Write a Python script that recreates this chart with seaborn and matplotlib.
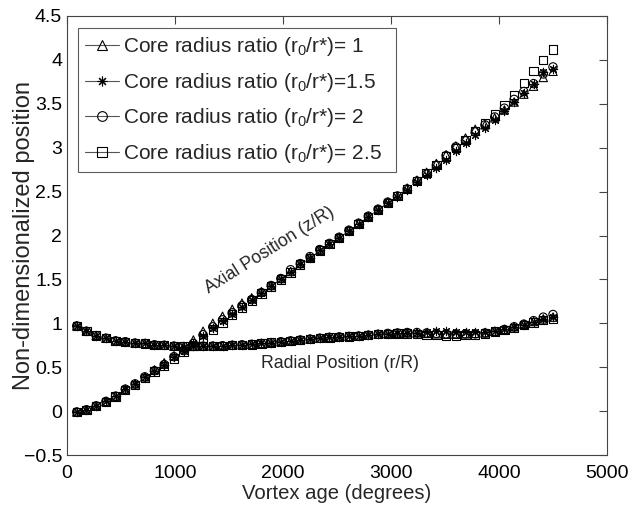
import matplotlib
matplotlib.use("Agg")
import matplotlib.pyplot as plt
import seaborn as sns
import pandas as pd
from matplotlib.lines import Line2D

# ---- data -----------------------------------------------------------------
vortex_age = [90, 180, 270, 360, 450, 540, 630, 720, 810, 900,
              990, 1080, 1170, 1260, 1350, 1440, 1530, 1620, 1710, 1800,
              1890, 1980, 2070, 2160, 2250, 2340, 2430, 2520, 2610, 2700,
              2790, 2880, 2970, 3060, 3150, 3240, 3330, 3420, 3510, 3600,
              3690, 3780, 3870, 3960, 4050, 4140, 4230, 4320, 4410, 4500]

ratio_labels = ["1", "1.5", "2", "2.5"]

axial_r1 = [-0.01, 0.015, 0.06, 0.11, 0.17, 0.25, 0.31, 0.39, 0.47, 0.55,
            0.63, 0.71, 0.81, 0.91, 1.00, 1.08, 1.16, 1.23, 1.29, 1.36,
            1.43, 1.51, 1.59, 1.68, 1.75, 1.83, 1.90, 1.98, 2.06, 2.14,
            2.22, 2.30, 2.38, 2.45, 2.54, 2.63, 2.72, 2.82, 2.92, 3.02,
            3.11, 3.21, 3.26, 3.34, 3.43, 3.52, 3.61, 3.70, 3.80, 3.87]
axial_r15 = [-0.01, 0.015, 0.06, 0.11, 0.17, 0.25, 0.31, 0.39, 0.46, 0.53,
             0.62, 0.69, 0.77, 0.86, 0.95, 1.03, 1.11, 1.19, 1.26, 1.34,
             1.42, 1.50, 1.58, 1.67, 1.74, 1.83, 1.90, 1.97, 2.05, 2.13,
             2.21, 2.29, 2.37, 2.44, 2.52, 2.61, 2.69, 2.77, 2.86, 2.96,
             3.05, 3.14, 3.23, 3.32, 3.42, 3.52, 3.62, 3.72, 3.86, 3.90]
axial_r2 = [-0.01, 0.015, 0.06, 0.11, 0.17, 0.25, 0.31, 0.39, 0.46, 0.53,
            0.62, 0.69, 0.77, 0.87, 0.96, 1.04, 1.12, 1.20, 1.27, 1.35,
            1.43, 1.51, 1.61, 1.68, 1.76, 1.84, 1.91, 1.98, 2.06, 2.14,
            2.22, 2.30, 2.38, 2.45, 2.53, 2.62, 2.70, 2.80, 2.91, 3.01,
            3.08, 3.18, 3.26, 3.35, 3.45, 3.55, 3.64, 3.73, 3.84, 3.92]
axial_r25 = [-0.01, 0.01, 0.055, 0.105, 0.165, 0.24, 0.30, 0.38, 0.45, 0.51,
             0.60, 0.67, 0.74, 0.83, 0.93, 1.01, 1.10, 1.18, 1.26, 1.34,
             1.42, 1.50, 1.58, 1.67, 1.74, 1.83, 1.90, 1.97, 2.05, 2.13,
             2.21, 2.29, 2.37, 2.45, 2.53, 2.62, 2.71, 2.80, 2.90, 3.00,
             3.09, 3.19, 3.28, 3.38, 3.49, 3.60, 3.74, 3.87, 4.00, 4.12]

radial_r1 = [0.97, 0.91, 0.86, 0.83, 0.80, 0.79, 0.775, 0.77, 0.755, 0.75,
             0.74, 0.735, 0.74, 0.74, 0.74, 0.745, 0.75, 0.755, 0.76, 0.77,
             0.78, 0.79, 0.80, 0.81, 0.82, 0.83, 0.84, 0.845, 0.85, 0.855,
             0.865, 0.875, 0.88, 0.885, 0.89, 0.89, 0.885, 0.88, 0.875, 0.875,
             0.88, 0.885, 0.89, 0.91, 0.93, 0.96, 0.99, 1.02, 1.05, 1.07]
radial_r15 = [0.97, 0.91, 0.86, 0.83, 0.80, 0.79, 0.775, 0.77, 0.755, 0.75,
              0.74, 0.735, 0.74, 0.74, 0.74, 0.745, 0.75, 0.755, 0.76, 0.77,
              0.78, 0.79, 0.80, 0.81, 0.82, 0.83, 0.84, 0.845, 0.85, 0.855,
              0.865, 0.875, 0.88, 0.885, 0.89, 0.895, 0.905, 0.91, 0.91, 0.905,
              0.905, 0.90, 0.90, 0.91, 0.93, 0.955, 0.985, 1.02, 1.05, 1.07]
radial_r2 = [0.97, 0.91, 0.86, 0.83, 0.80, 0.79, 0.775, 0.77, 0.755, 0.75,
             0.74, 0.735, 0.74, 0.74, 0.74, 0.745, 0.75, 0.755, 0.76, 0.77,
             0.78, 0.79, 0.80, 0.81, 0.82, 0.83, 0.84, 0.845, 0.85, 0.855,
             0.865, 0.875, 0.885, 0.89, 0.895, 0.895, 0.89, 0.885, 0.88, 0.88,
             0.88, 0.88, 0.89, 0.905, 0.93, 0.96, 0.99, 1.03, 1.07, 1.10]
radial_r25 = [0.97, 0.91, 0.86, 0.83, 0.80, 0.79, 0.775, 0.77, 0.755, 0.75,
              0.74, 0.735, 0.74, 0.74, 0.74, 0.745, 0.75, 0.755, 0.76, 0.77,
              0.78, 0.79, 0.80, 0.81, 0.82, 0.83, 0.84, 0.845, 0.85, 0.855,
              0.865, 0.875, 0.88, 0.885, 0.885, 0.88, 0.87, 0.865, 0.86, 0.86,
              0.865, 0.87, 0.885, 0.905, 0.925, 0.95, 0.98, 1.01, 1.04, 1.05]

axial_series = [axial_r1, axial_r15, axial_r2, axial_r25]
radial_series = [radial_r1, radial_r15, radial_r2, radial_r25]

# ---- style ----------------------------------------------------------------
sns.set_style("white")
plt.rcParams["font.family"] = ["Liberation Sans", "DejaVu Sans"]
plt.rcParams["mathtext.fontset"] = "custom"
plt.rcParams["mathtext.rm"] = "Liberation Sans"
plt.rcParams["mathtext.it"] = "Liberation Sans:italic"

markers = ["^", (8, 2, 0), "o", "s"]
label_texts = [r"Core radius ratio (r$\mathregular{_0}$/r*)= 1  ",
               r"Core radius ratio (r$\mathregular{_0}$/r*)=1.5  ",
               r"Core radius ratio (r$\mathregular{_0}$/r*)= 2  ",
               r"Core radius ratio (r$\mathregular{_0}$/r*)= 2.5  "]

fig = plt.figure(figsize=(6.28, 5.07), dpi=100)
ax = fig.add_axes([67 / 628, 1 - 455 / 507, 540 / 628, 439 / 507])

msize = 36
for m, ax_vals, rad_vals in zip(markers, axial_series, radial_series):
    df = pd.DataFrame({"age": vortex_age * 2,
                       "pos": ax_vals + rad_vals})
    if m == (8, 2, 0):
        sns.scatterplot(data=df, x="age", y="pos", marker=m, s=msize,
                        color="black", linewidth=0.8, ax=ax, legend=False)
    else:
        sns.scatterplot(data=df, x="age", y="pos", marker=m, s=msize,
                        facecolor="none", edgecolor="black", linewidth=0.8,
                        ax=ax, legend=False)

ax.set_xlim(0, 5000)
ax.set_ylim(-0.5, 4.5)
ax.set_xticks([0, 1000, 2000, 3000, 4000, 5000])
ax.set_yticks([-0.5, 0, 0.5, 1, 1.5, 2, 2.5, 3, 3.5, 4, 4.5])
ax.set_yticklabels(["\u22120.5", "0", "0.5", "1", "1.5", "2", "2.5", "3", "3.5", "4", "4.5"])
ax.tick_params(direction="in", top=True, right=True, length=6, width=0.8,
               color="#444444", labelcolor="black", labelsize=14)
ax.tick_params(axis="x", pad=7.5)
ax.tick_params(axis="y", pad=3.5)
for sp in ax.spines.values():
    sp.set_color("#444444")
    sp.set_linewidth(0.8)

ax.set_xlabel("Vortex age (degrees)", fontsize=14.6, labelpad=1)
ax.set_ylabel("Non-dimensionalized position", fontsize=17)
ax.yaxis.set_label_coords(-0.0593, 0.5)

ax.text(1880, 1.83, "Axial Position (z/R)", rotation=32, rotation_mode="anchor",
        ha="center", va="center", fontsize=12.7)
ax.text(2532, 0.54, "Radial Position (r/R)", ha="center", va="center", fontsize=12.7)

handles = [Line2D([], [], color="#555555", lw=0.8, marker=m, markersize=7,
                  markerfacecolor="none", markeredgecolor="black",
                  markeredgewidth=0.8) for m in markers]
leg = ax.legend(handles, label_texts, loc="upper left",
                bbox_to_anchor=(0.0204, 0.972), borderaxespad=0, fontsize=15,
                frameon=True, fancybox=False, handlelength=1.63,
                handletextpad=0.2, labelspacing=0.6, borderpad=0.34)
leg.get_frame().set_edgecolor("#333333")
leg.get_frame().set_linewidth(0.8)

fig.savefig("out.png", dpi=100)
